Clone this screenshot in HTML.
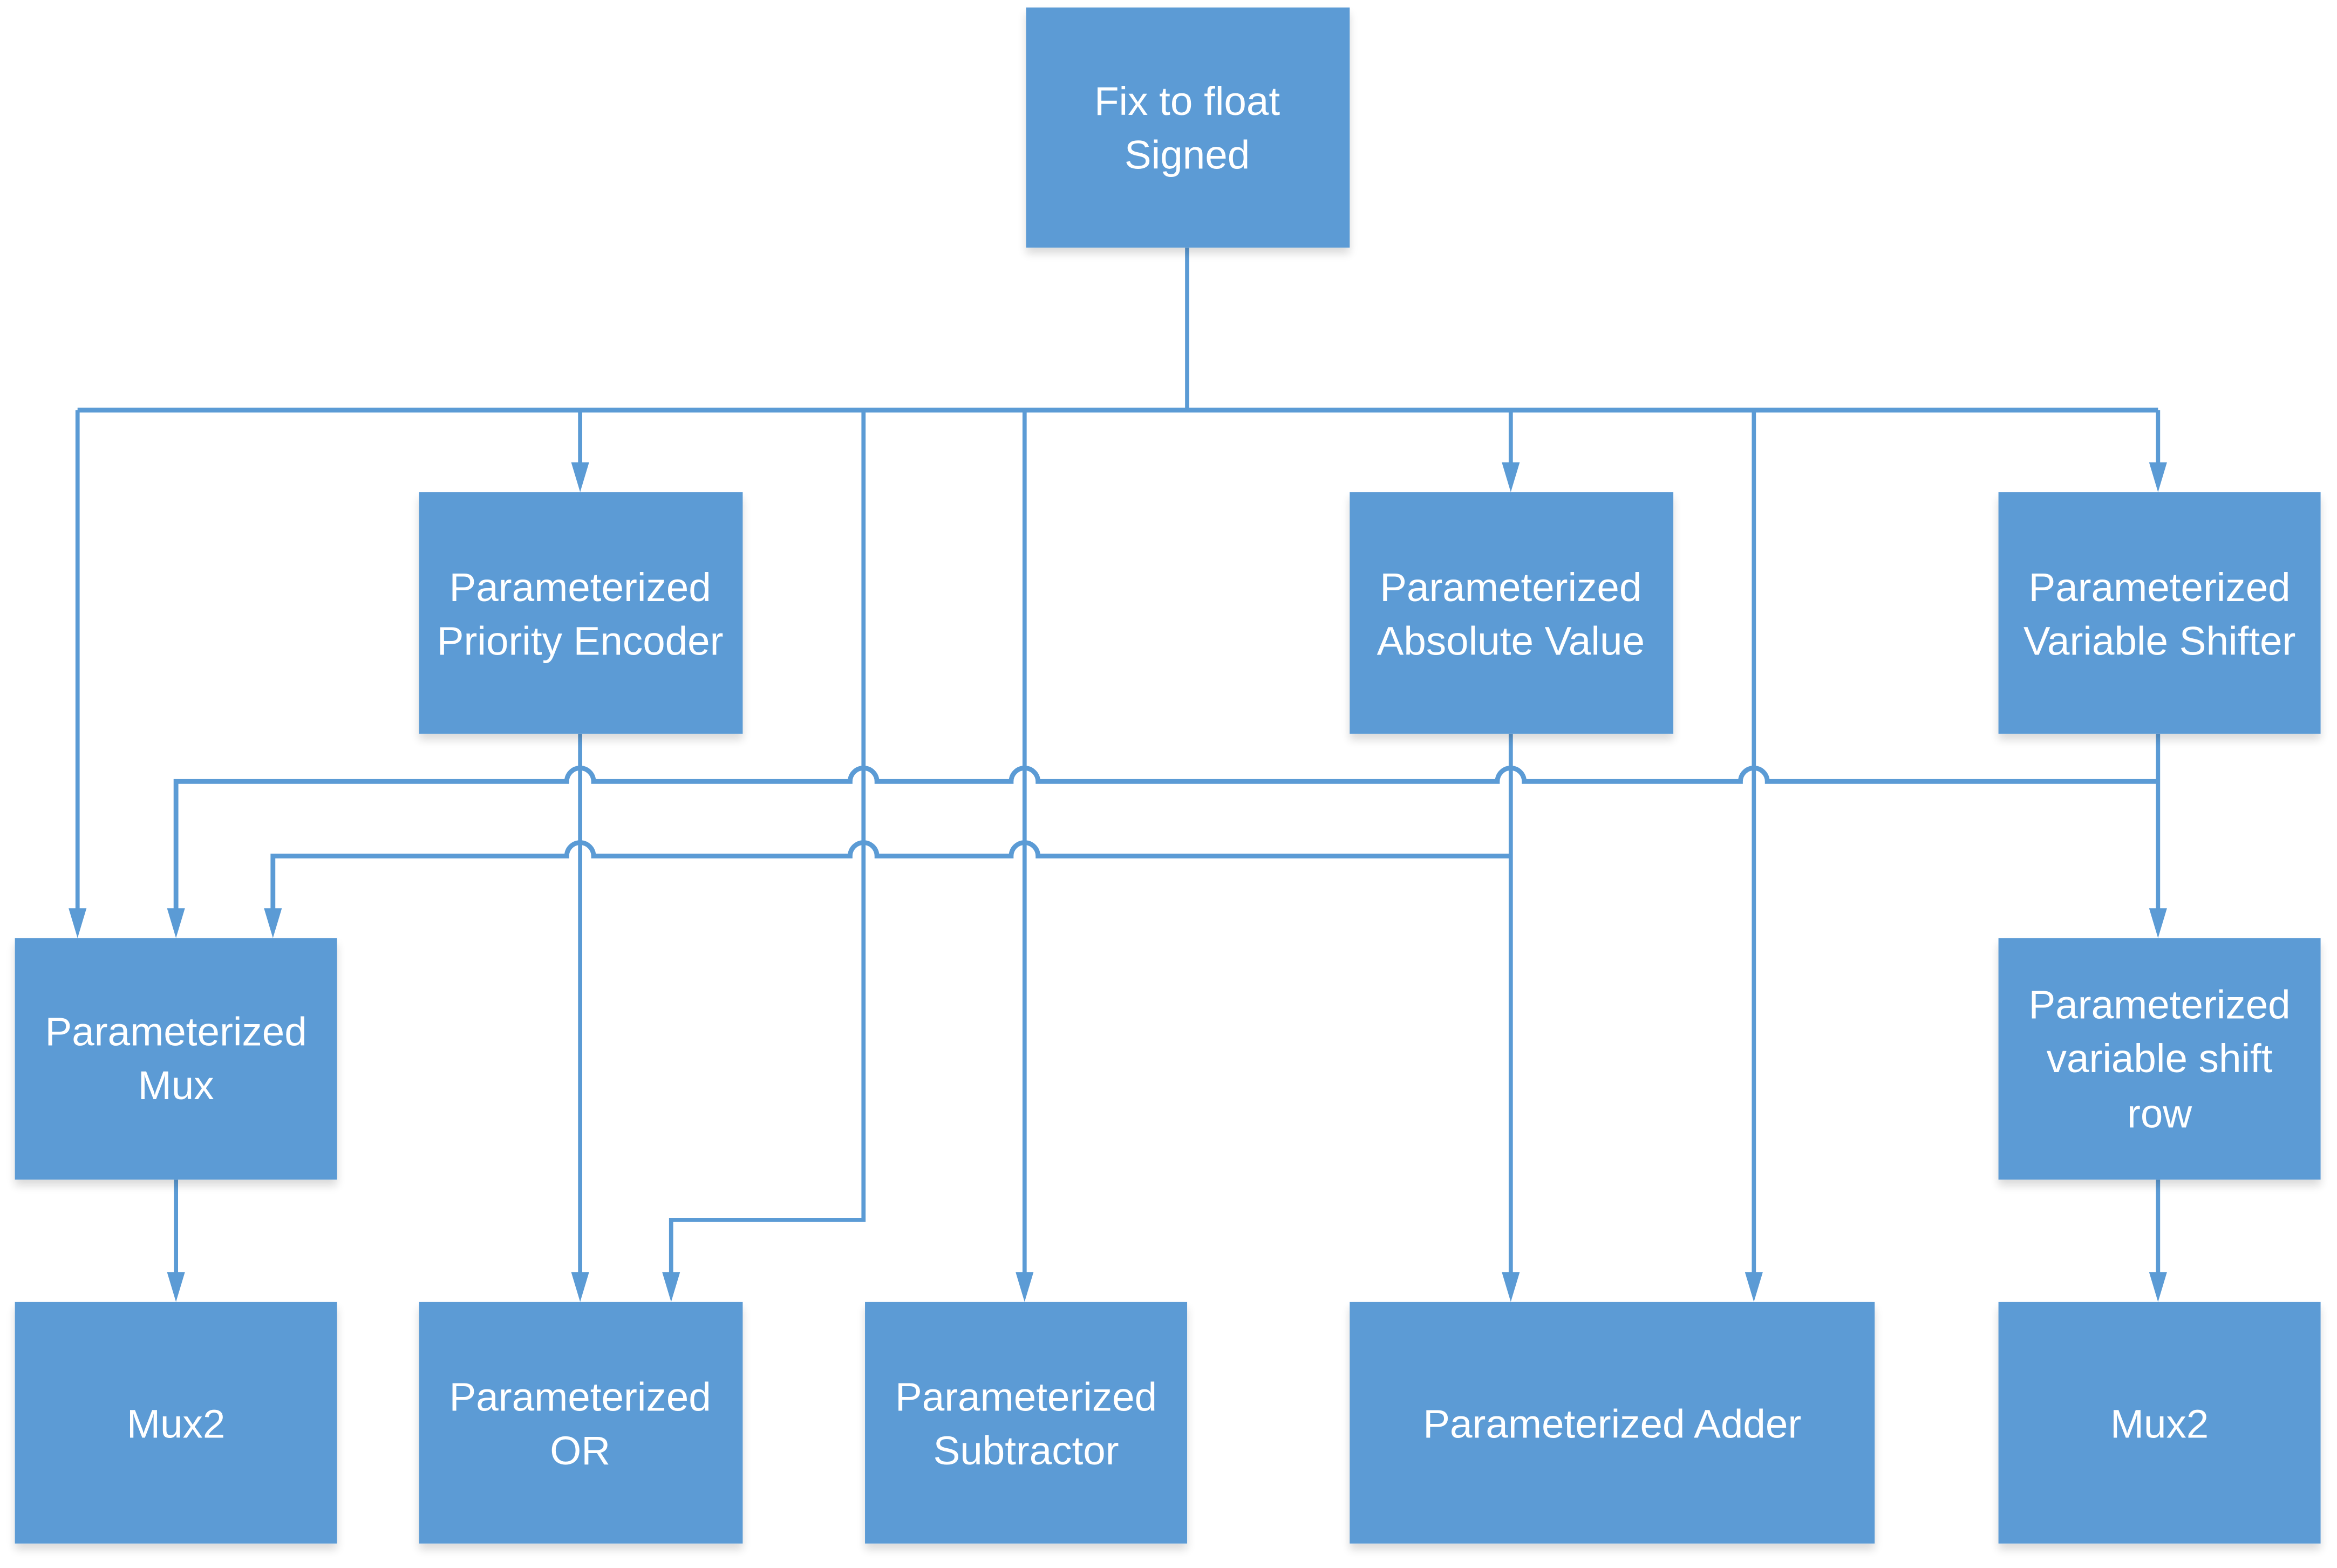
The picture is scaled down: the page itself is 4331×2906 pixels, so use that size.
<!DOCTYPE html>
<html><head><meta charset="utf-8"><style>
html,body{margin:0;padding:0;background:#fff;}
svg{display:block;}
text{font-family:"Liberation Sans",sans-serif;font-size:27px;fill:#fff;text-anchor:middle;}
</style></head><body>
<svg width="4331" height="2906" viewBox="0 0 1567 1051.4" xmlns="http://www.w3.org/2000/svg">
<defs>
<filter id="sh" x="-10%" y="-10%" width="120%" height="130%"><feGaussianBlur in="SourceAlpha" stdDeviation="3"/><feOffset dy="4"/><feComponentTransfer><feFuncA type="linear" slope="0.15"/></feComponentTransfer><feMerge><feMergeNode/><feMergeNode in="SourceGraphic"/></feMerge></filter>
<path id="ah" d="M-6,-20 L6,-20 L0,0 Z" fill="#5B9BD5"/>
</defs>
<g fill="none" stroke="#5B9BD5" stroke-width="2.8">
<path d="M796,166 V275"/>
<path d="M52,275 H1447" stroke-width="3.2"/>
<path d="M52,275 V612"/>
<path d="M389,275 V313"/>
<path d="M1013,275 V313"/>
<path d="M1447,275 V313"/>
<path d="M579,275 V818 H450 V856"/>
<path d="M687,275 V856"/>
<path d="M1176,275 V856"/>
<path d="M389,492 V856"/>
<path d="M1013,492 V856"/>
<path d="M1447,492 V612"/>
<path d="M118,791 V856"/>
<path d="M1447,791 V856"/>
<path d="M1447,524 H1185 A9,9 0 0 0 1167,524 H1022 A9,9 0 0 0 1004,524 H696 A9,9 0 0 0 678,524 H588 A9,9 0 0 0 570,524 H398 A9,9 0 0 0 380,524 H118 V612" stroke-width="3.2"/>
<path d="M1013,574 H696 A9,9 0 0 0 678,574 H588 A9,9 0 0 0 570,574 H398 A9,9 0 0 0 380,574 H183 V612" stroke-width="3.2"/>
</g>
<use href="#ah" x="52" y="629"/><use href="#ah" x="118" y="629"/><use href="#ah" x="183" y="629"/><use href="#ah" x="1447" y="629"/>
<use href="#ah" x="389" y="330"/><use href="#ah" x="1013" y="330"/><use href="#ah" x="1447" y="330"/>
<use href="#ah" x="118" y="873"/><use href="#ah" x="389" y="873"/><use href="#ah" x="450" y="873"/><use href="#ah" x="687" y="873"/><use href="#ah" x="1013" y="873"/><use href="#ah" x="1176" y="873"/><use href="#ah" x="1447" y="873"/>
<g fill="#5B9BD5" filter="url(#sh)">
<rect x="688" y="5" width="217" height="161"/>
<rect x="281" y="330" width="217" height="162"/>
<rect x="905" y="330" width="217" height="162"/>
<rect x="1340" y="330" width="216" height="162"/>
<rect x="10" y="629" width="216" height="162"/>
<rect x="1340" y="629" width="216" height="162"/>
<rect x="10" y="873" width="216" height="162"/>
<rect x="281" y="873" width="217" height="162"/>
<rect x="580" y="873" width="216" height="162"/>
<rect x="905" y="873" width="352" height="162"/>
<rect x="1340" y="873" width="216" height="162"/>
</g>
<text x="796" y="77">Fix to float</text><text x="796" y="113">Signed</text>
<text x="389" y="403">Parameterized</text><text x="389" y="439">Priority Encoder</text>
<text x="1013" y="403">Parameterized</text><text x="1013" y="439">Absolute Value</text>
<text x="1448" y="403">Parameterized</text><text x="1448" y="439">Variable Shifter</text>
<text x="118" y="701">Parameterized</text><text x="118" y="737">Mux</text>
<text x="1448" y="683">Parameterized</text><text x="1448" y="719">variable shift</text><text x="1448" y="756">row</text>
<text x="118" y="964">Mux2</text>
<text x="389" y="946">Parameterized</text><text x="389" y="982">OR</text>
<text x="688" y="946">Parameterized</text><text x="688" y="982">Subtractor</text>
<text x="1081" y="964">Parameterized Adder</text>
<text x="1448" y="964">Mux2</text>
</svg>
</body></html>
